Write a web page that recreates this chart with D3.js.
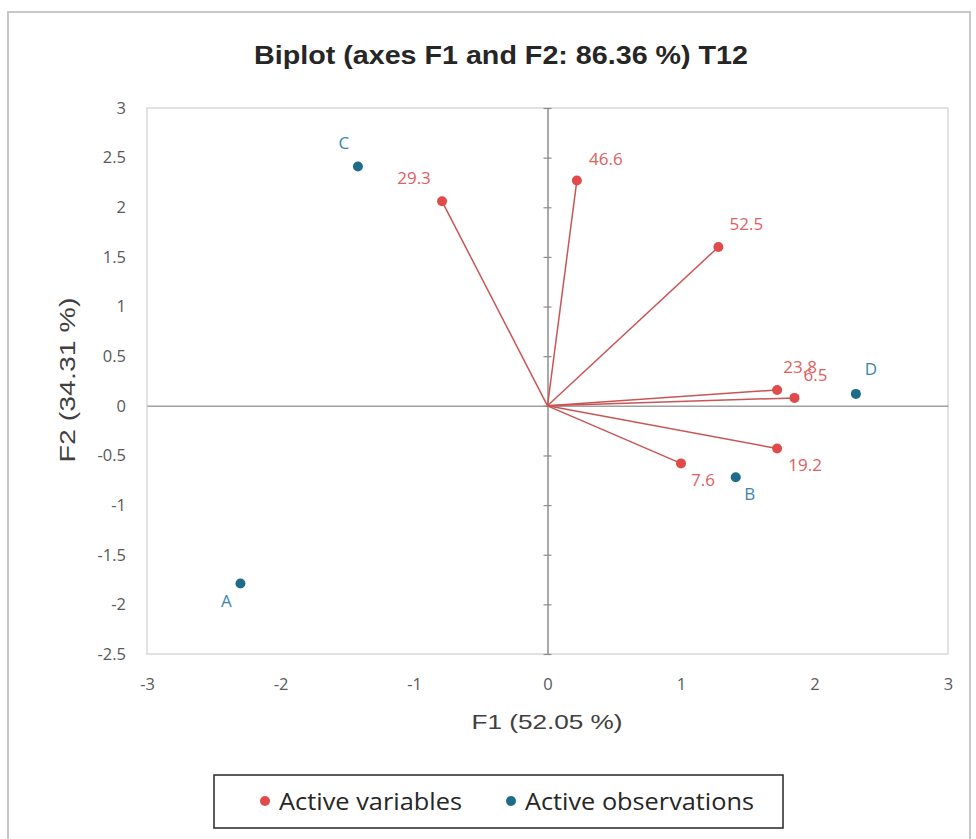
<!DOCTYPE html>
<html><head><meta charset="utf-8">
<script src="https://cdn.jsdelivr.net/npm/d3@7"></script>
<style>body{margin:0;background:#fff}svg{display:block}</style>
</head><body>
<script>
// ---- data ----
const variableNames = ["29.3","46.6","52.5","23.8","6.5","19.2","7.6"];
const variableF1 = [-0.79, 0.22, 1.28, 1.72, 1.85, 1.72, 1.00];
const variableF2 = [2.06, 2.27, 1.60, 0.16, 0.08, -0.43, -0.58];
const observationNames = ["A","B","C","D"];
const observationF1 = [-2.30, 1.41, -1.42, 2.31];
const observationF2 = [-1.79, -0.72, 2.41, 0.12];
const xTicks = [-3,-2,-1,0,1,2,3];
const yTicks = [3,2.5,2,1.5,1,0.5,0,-0.5,-1,-1.5,-2,-2.5];
const titleText = "Biplot (axes F1 and F2: 86.36 %) T12";
const xTitle = "F1 (52.05 %)";
const yTitle = "F2 (34.31 %)";
const legendLabels = ["Active variables","Active observations"];

// label offsets (layout)
const labelOffset = {
  "29.3":[-28,-24], "46.6":[29,-22], "52.5":[28,-23], "23.8":[23,-23], "6.5":[21,-23],
  "19.2":[28,16], "7.6":[22,16],
  "A":[-14,17], "B":[14,16], "C":[-14,-24], "D":[15,-25]
};

const W=976,H=839;
const svg=d3.select("body").append("svg").attr("width",W).attr("height",H);
svg.append("rect").attr("x",8).attr("y",12).attr("width",962).attr("height",840)
  .attr("fill","none").attr("stroke","#c8c8c8").attr("stroke-width",2);

const x=d3.scaleLinear().domain([-3,3]).range([147,948]);
const y=d3.scaleLinear().domain([-2.5,3]).range([654,108]);

svg.append("rect").attr("x",x(-3)).attr("y",y(3)).attr("width",x(3)-x(-3)).attr("height",y(-2.5)-y(3))
  .attr("fill","none").attr("stroke","#d9d9d9").attr("stroke-width",1.5);

// axes through origin
const gx=svg.append("g").attr("transform",`translate(0,${y(0)})`)
  .call(d3.axisBottom(x).tickValues([]).tickSizeOuter(0));
gx.select(".domain").attr("stroke","#a0a0a0").attr("stroke-width",1.5);
const gy=svg.append("g").attr("transform",`translate(${x(0)},0)`)
  .call(d3.axisLeft(y).tickValues(yTicks).tickSizeInner(4).tickSizeOuter(0).tickFormat(""));
gy.select(".domain").attr("stroke","#8c8c8c").attr("stroke-width",1.5);
gy.selectAll(".tick line").attr("x1",-4).attr("x2",4).attr("stroke","#8c8c8c").attr("stroke-width",1.2);

// tick labels on the outer frame
const fontTick="'Open Sans','Noto Sans',sans-serif";
svg.append("g").attr("transform",`translate(${x(-3)},0)`)
  .call(d3.axisLeft(y).tickValues(yTicks).tickSize(0).tickPadding(21).tickFormat(d=>String(d)))
  .call(g=>g.select(".domain").remove())
  .selectAll("text").attr("font-family",fontTick).attr("font-size",16.5).attr("fill","#595959");
svg.append("g").attr("transform",`translate(0,${y(-2.5)})`)
  .call(d3.axisBottom(x).tickValues(xTicks).tickSize(0).tickPadding(24).tickFormat(d=>String(d)))
  .call(g=>g.select(".domain").remove())
  .selectAll("text").attr("font-family",fontTick).attr("font-size",16.5).attr("fill","#595959");

// titles
svg.append("text").attr("x",501).attr("y",64).attr("text-anchor","middle")
  .attr("font-family","'Liberation Sans',Arial,sans-serif").attr("font-weight","bold").attr("font-size",25)
  .attr("textLength",494).attr("lengthAdjust","spacingAndGlyphs")
  .attr("fill","#262626").text(titleText);
svg.append("text").attr("x",547).attr("y",729).attr("text-anchor","middle")
  .attr("font-family","'Liberation Sans',Arial,sans-serif").attr("font-size",21)
  .attr("textLength",151).attr("lengthAdjust","spacingAndGlyphs")
  .attr("fill","#404040").text(xTitle);
svg.append("text").attr("transform",`translate(75,380) rotate(-90)`).attr("text-anchor","middle")
  .attr("font-family","'Liberation Sans',Arial,sans-serif").attr("font-size",21.5)
  .attr("textLength",165).attr("lengthAdjust","spacingAndGlyphs")
  .attr("fill","#404040").text(yTitle);

const varData=variableNames.map((n,i)=>({n,f1:variableF1[i],f2:variableF2[i]}));
const obsData=observationNames.map((n,i)=>({n,f1:observationF1[i],f2:observationF2[i]}));

const red="#e04a4a", redLine="#c95555", redText="#e06060";
const blue="#1e6b8a", blueText="#3a86ad";

svg.append("g").selectAll("line").data(varData).join("line")
  .attr("x1",x(0)).attr("y1",y(0)).attr("x2",d=>x(d.f1)).attr("y2",d=>y(d.f2))
  .attr("stroke",redLine).attr("stroke-width",1.5);
svg.append("g").selectAll("circle").data(varData).join("circle")
  .attr("cx",d=>x(d.f1)).attr("cy",d=>y(d.f2)).attr("r",5).attr("fill",red);
svg.append("g").selectAll("circle").data(obsData).join("circle")
  .attr("cx",d=>x(d.f1)).attr("cy",d=>y(d.f2)).attr("r",5).attr("fill",blue);

const labFont="'Open Sans','Noto Sans',sans-serif";
svg.append("g").selectAll("text").data(varData).join("text")
  .attr("x",d=>x(d.f1)+labelOffset[d.n][0]).attr("y",d=>y(d.f2)+labelOffset[d.n][1])
  .attr("text-anchor","middle").attr("dominant-baseline","central")
  .attr("font-family",labFont).attr("font-size",17).attr("fill",redText).text(d=>d.n);
svg.append("g").selectAll("text").data(obsData).join("text")
  .attr("x",d=>x(d.f1)+labelOffset[d.n][0]).attr("y",d=>y(d.f2)+labelOffset[d.n][1])
  .attr("text-anchor","middle").attr("dominant-baseline","central")
  .attr("font-family",labFont).attr("font-size",17).attr("fill",blueText).text(d=>d.n);

// legend
const lg=svg.append("g");
lg.append("rect").attr("x",214).attr("y",775).attr("width",569).attr("height",53)
  .attr("fill","#fff").attr("stroke","#262626").attr("stroke-width",1.5);
const legendColors=[red,blue];
const legendX=[265,511];
const legendLen=[183,229];
legendLabels.forEach((t,i)=>{
  lg.append("circle").attr("cx",legendX[i]).attr("cy",801).attr("r",5).attr("fill",legendColors[i]);
  lg.append("text").attr("x",legendX[i]+14).attr("y",801).attr("dominant-baseline","central")
    .attr("font-family",labFont).attr("font-size",23)
    .attr("textLength",legendLen[i]).attr("lengthAdjust","spacingAndGlyphs")
    .attr("fill","#262626").text(t);
});
</script>
</body></html>
